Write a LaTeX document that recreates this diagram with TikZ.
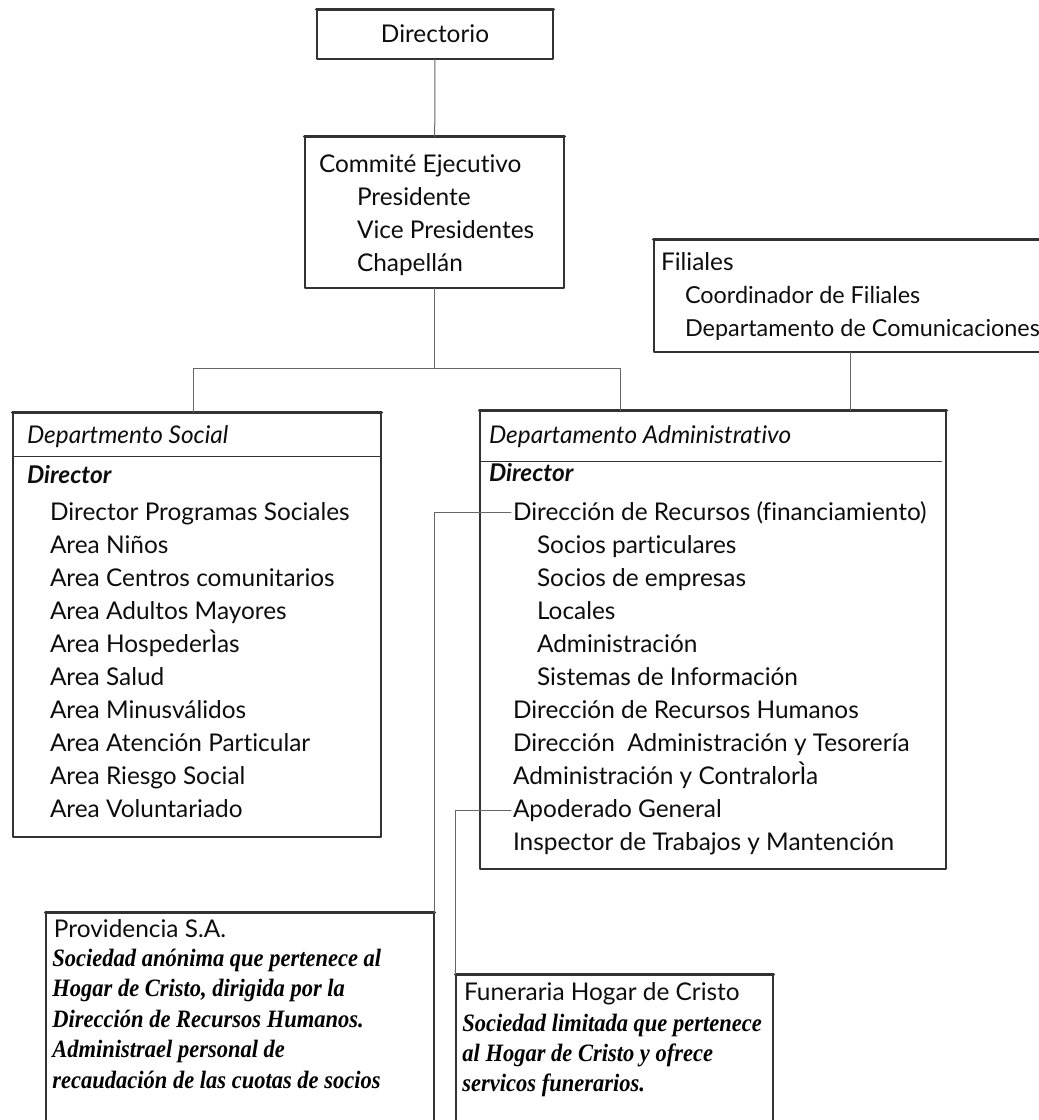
\documentclass[tikz,border=0pt]{standalone}
\usepackage{fontspec}
\setmainfont{Lato}[Ligatures=NoCommon]
\newfontfamily\notefont{Liberation Serif}[FakeStretch=0.9]
\usetikzlibrary{fit}
\definecolor{tttttt}{rgb}{0.2,0.2,0.2}
\definecolor{wwwwww}{rgb}{0.4,0.4,0.4}
\newcommand\sansf{\fontsize{12.2pt}{14pt}\selectfont}

\begin{document}
\begin{tikzpicture}[line cap=round,line join=round,x=0.5pt,y=-0.5pt,
  box/.style={draw=tttttt,line width=0.6pt,inner sep=0pt},
  topline/.style={tttttt,line width=1.4pt},
  rule/.style={tttttt,line width=0.6pt},
  link/.style={wwwwww,line width=0.5pt},
  item/.style={anchor=base west,inner sep=0pt,outer sep=1pt,text=black!95,font=\sansf},
  head/.style={item,font=\sansf\itshape},
  note/.style={anchor=base west,inner sep=0pt,font=\notefont\bfseries\itshape\fontsize{12.5pt}{13pt}\selectfont}]
\useasboundingbox (0,0) rectangle (1039,1120);
\clip (0,0) rectangle (1039,1120);
% boxes
\node[box,fit={(317,10) (553,59)}] (dir) {};
\node[box,fit={(305,137) (564,288)}] (com) {};
\node[box,fit={(654,240) (1046,352)}] (fil) {};
\node[box,fit={(13,413) (381,837)}] (ds) {};
\node[box,fit={(480,411) (946,869)}] (da) {};
\node[box,fit={(46,913) (434,1140)}] (prov) {};
\node[box,fit={(456,975) (773,1140)}] (fun) {};
\foreach \b in {dir,com,fil,ds,da,prov,fun}
  \draw[topline] (\b.north west) -- (\b.north east);
\draw[rule] (ds.north west) ++(0,44) -- ++(368,0);
\draw[rule] (da.north west) ++(0,51) -- ++(462,0);
% Directorio
\node[item,anchor=base] (dir-0) at (435,42) {Directorio};
% Commite
\node[item] (com-0) at (317,172) {Commité Ejecutivo};
\foreach \t [count=\i] in {Presidente,Vice Presidentes,Chapellán}
  \node[item] (com-\i) at (355,172+33*\i) {\t};
% Filiales
\node[item] (fil-0) at (659,270) {Filiales};
\foreach \t [count=\i] in {Coordinador de Filiales,Departamento de Comunicaciones}
  \node[item,font=\fontsize{11.7pt}{14pt}\selectfont] (fil-\i) at (683,270+33*\i) {\t};
% Departamento Social
\node[head] (ds-h) at (25,443) {Departmento Social};
\node[head,font=\sansf\bfseries\itshape] (ds-d) at (25,483) {Director};
\foreach \t [count=\i from 0] in {Director Programas Sociales,Area Niños,Area Centros comunitarios,Area Adultos Mayores,Area HospederÌas,Area Salud,Area Minusválidos,Area Atención Particular,Area Riesgo Social,Area Voluntariado}
  \node[item] (ds-\i) at (48,520+33*\i) {\t};
% Departamento Administrativo
\node[head] (da-h) at (487,443) {Departamento Administrativo};
\node[head,font=\sansf\bfseries\itshape] (da-d) at (487,481) {Director};
\foreach \x/\t [count=\i from 0] in {511/Dirección de Recursos (financiamiento),535/Socios particulares,535/Socios de empresas,535/Locales,535/Administración,535/Sistemas de Información,511/Dirección de Recursos Humanos,511/Dirección\ \ Administración y Tesorería,511/Administración y ContralorÌa,511/Apoderado General,511/Inspector de Trabajos y Mantención}
  \node[item] (da-\i) at (\x,520+33*\i) {\t};
% Providencia
\node[item] (prov-0) at (52,937) {Providencia S.A.};
\foreach \t [count=\i] in {Sociedad anónima que pertenece al,{Hogar de Cristo, dirigida por la},Dirección de Recursos Humanos.,Administrael personal de,recaudación de las cuotas de socios}
  \node[note] (prov-\i) at (52,935.5+30.5*\i) {\t};
% Funeraria
\node[item] (fun-0) at (462,1000) {Funeraria Hogar de Cristo};
\foreach \t [count=\i] in {Sociedad limitada que pertenece,al Hogar de Cristo y ofrece,servicos funerarios.}
  \node[note] (fun-\i) at (462,1001+30*\i) {\t};
% connectors
\coordinate (busL) at (193,368);
\coordinate (busR) at (620,368);
\draw[link] (dir) -- (com);
\draw[link] (com.south) -- (com.south |- busL);
\draw[link] (ds.north -| busL) |- (busR) -- (da.north -| busR);
\draw[link] (fil) -- (fil.south |- da.north);
\draw[link] (da-0.west) -| (prov.north east);
\draw[link] (da-9.west) -| (fun.north west);
\end{tikzpicture}
\end{document}
